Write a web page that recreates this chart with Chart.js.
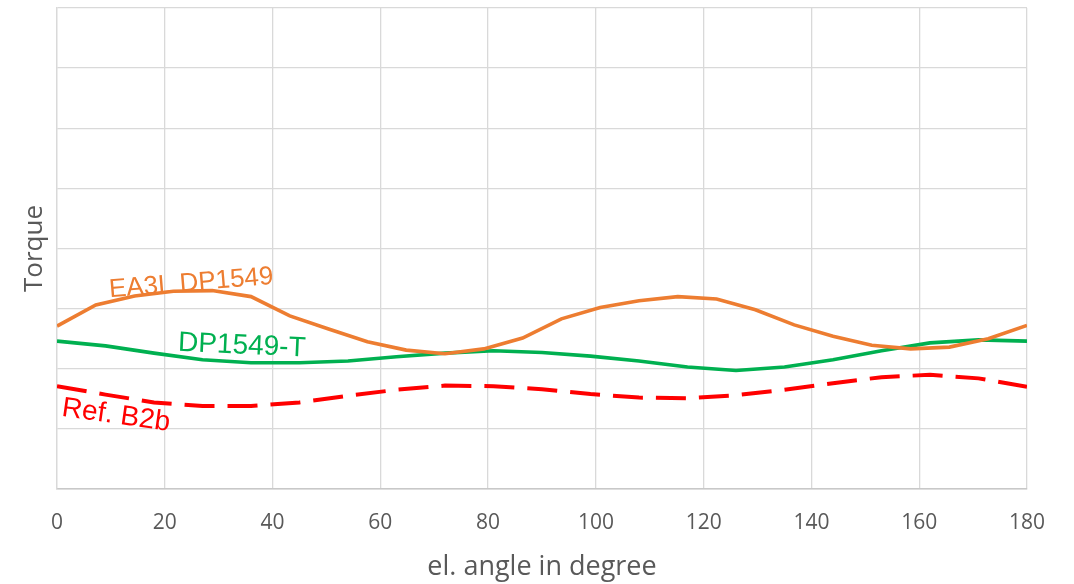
<!DOCTYPE html>
<html>
<head>
<meta charset="utf-8">
<script src="https://cdn.jsdelivr.net/npm/chart.js@4"></script>
<style>
  html, body { margin: 0; padding: 0; background: #fff; }
  #wrap { width: 1074px; height: 584px; }
</style>
</head>
<body>
<div id="wrap"><canvas id="torqueChart"></canvas></div>
<script>
// angles (el. degree) where each curve was sampled
const anglesEA3L = [0, 7.2, 14.4, 21.6, 28.8, 36, 43.2, 50.4, 57.6, 64.8, 72, 79.2, 86.4,
                    93.6, 100.8, 108, 115.2, 122.4, 129.6, 136.8, 144, 151.2, 158.4, 165.6, 172.8, 180];
const anglesOther = [0, 9, 18, 27, 36, 45, 54, 63, 72, 81, 90, 99, 108, 117, 126, 135, 144, 153, 162, 171, 180];

// torque values (no units on the original, one grid step = 1)
const torqueEA3L = [2.71, 3.06, 3.21, 3.29, 3.30, 3.20, 2.88, 2.66, 2.45, 2.31, 2.25, 2.33, 2.51,
                    2.83, 3.02, 3.13, 3.20, 3.16, 2.98, 2.73, 2.54, 2.39, 2.33, 2.36, 2.50, 2.72];
const torqueDP1549T = [2.46, 2.38, 2.26, 2.15, 2.10, 2.10, 2.13, 2.20, 2.26, 2.30, 2.27,
                       2.21, 2.13, 2.03, 1.97, 2.03, 2.15, 2.30, 2.43, 2.48, 2.46];
const torqueRefB2b = [1.71, 1.57, 1.44, 1.38, 1.38, 1.44, 1.55, 1.65, 1.72, 1.71, 1.66,
                      1.58, 1.52, 1.51, 1.56, 1.65, 1.76, 1.86, 1.90, 1.84, 1.70];

const xTicks = [0, 20, 40, 60, 80, 100, 120, 140, 160, 180];

const toPoints = (xs, ys) => xs.map((x, i) => ({ x: x, y: ys[i] }));

// curve labels written on the plot
const curveLabels = [
  { text: 'EA3L DP1549', x: 24.9, y: 3.42, angle: -4.7, color: '#ED7D31', size: 26 },
  { text: 'DP1549-T', x: 34.3, y: 2.38, angle: 2.6, color: '#00B050', size: 28 },
  { text: 'Ref. B2b', x: 10.95, y: 1.22, angle: 8, color: '#FF0000', size: 28 }
];

const labelPlugin = {
  id: 'curveLabels',
  afterDatasetsDraw(chart) {
    const c = chart.ctx;
    const xs = chart.scales.x, ys = chart.scales.y;
    curveLabels.forEach(l => {
      c.save();
      c.translate(xs.getPixelForValue(l.x), ys.getPixelForValue(l.y));
      c.rotate(l.angle * Math.PI / 180);
      c.font = l.size + 'px "Liberation Sans", Arial, sans-serif';
      c.fillStyle = l.color;
      c.textAlign = 'center';
      c.textBaseline = 'middle';
      c.fillText(l.text, 0, 0);
      c.restore();
    });
  }
};

const ctx = document.getElementById('torqueChart').getContext('2d');
const torqueChart = new Chart(ctx, {
  type: 'line',
  data: {
    datasets: [{
      label: 'EA3L DP1549',
      data: toPoints(anglesEA3L, torqueEA3L),
      borderColor: '#ED7D31',
      borderWidth: 3.6,
      pointRadius: 0,
      tension: 0
    }, {
      label: 'DP1549-T',
      data: toPoints(anglesOther, torqueDP1549T),
      borderColor: '#00B050',
      borderWidth: 3.6,
      pointRadius: 0,
      tension: 0
    }, {
      label: 'Ref. B2b',
      data: toPoints(anglesOther, torqueRefB2b),
      borderColor: '#FF0000',
      borderWidth: 4,
      borderDash: [30, 13],
      pointRadius: 0,
      tension: 0
    }]
  },
  options: {
    responsive: true,
    maintainAspectRatio: false,
    animation: false,
    layout: { padding: { top: 8, right: 47, bottom: 0, left: 0 } },
    plugins: {
      legend: { display: false },
      tooltip: { enabled: false }
    },
    scales: {
      x: {
        type: 'linear',
        min: 0,
        max: 180,
        afterBuildTicks: axis => { axis.ticks = xTicks.map(v => ({ value: v })); },
        afterFit: axis => { axis.height = 95; },
        grid: { color: '#D9D9D9', lineWidth: 1.3, drawTicks: false },
        border: { color: '#C8C8C8', width: 1.5 },
        ticks: {
          padding: 21,
          color: '#595959',
          font: { family: '"Open Sans", sans-serif', size: 21 },
          maxRotation: 0
        },
        title: {
          display: true,
          text: 'el. angle in degree',
          color: '#595959',
          font: { family: '"Open Sans", sans-serif', size: 27 },
          padding: { top: 4, bottom: 0 }
        }
      },
      y: {
        min: 0,
        max: 8,
        afterFit: axis => { axis.width = 57; },
        grid: { color: '#D9D9D9', lineWidth: 1.3, drawTicks: false },
        border: { color: '#D9D9D9', width: 1.3 },
        ticks: { display: false, stepSize: 1 },
        title: {
          display: true,
          text: 'Torque',
          color: '#595959',
          font: { family: '"Open Sans", sans-serif', size: 26 },
          padding: { top: 19, bottom: 0 }
        }
      }
    }
  },
  plugins: [labelPlugin]
});
</script>
</body>
</html>
